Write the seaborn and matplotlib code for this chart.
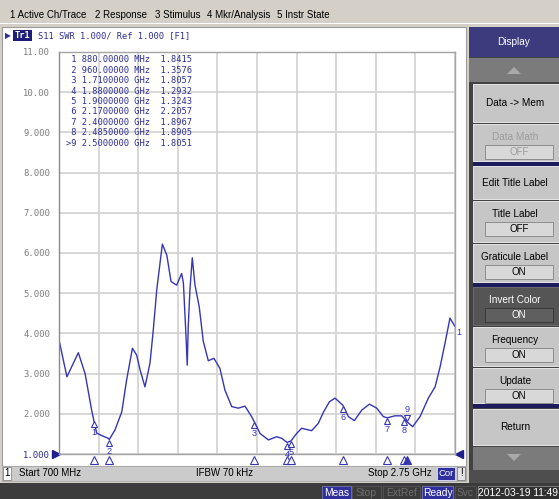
"""
ENA network analyzer screen: S11 SWR trace, 700 MHz - 2.75 GHz, with marker table.
"""
import matplotlib
matplotlib.use("Agg")
import matplotlib.pyplot as plt
import matplotlib.transforms as mtransforms
from matplotlib.patches import Rectangle, Polygon
import pandas as pd
import seaborn as sns

W, H = 559, 499

# ── trace data ────────────────────────────────────────────────
freq_mhz = [700, 741, 800, 835, 869, 880, 895, 925, 955, 960, 990, 1025,
            1050, 1080, 1102, 1120, 1145, 1171, 1188, 1206, 1235, 1258,
            1280, 1309, 1335, 1344, 1356, 1364, 1369, 1378, 1390, 1404,
            1426, 1447, 1473, 1502, 1533, 1559, 1594, 1628, 1663, 1697,
            1710, 1741, 1784, 1827, 1853, 1880, 1900, 1930, 1956, 2008,
            2042, 2070, 2100, 2129, 2170, 2198, 2229, 2267, 2307, 2345,
            2379, 2400, 2439, 2474, 2485, 2500, 2531, 2569, 2612, 2647,
            2673, 2698, 2724, 2750]
swr = [3.84, 2.92, 3.52, 3.00, 2.09, 1.84, 1.52, 1.45, 1.39, 1.36, 1.60, 2.05,
       2.84, 3.63, 3.46, 3.09, 2.67, 3.26, 4.08, 5.08, 6.22, 5.95,
       5.29, 5.20, 5.49, 5.25, 4.08, 3.21, 4.17, 5.10, 5.88, 5.20,
       4.66, 3.80, 3.32, 3.38, 3.13, 2.59, 2.18, 2.14, 2.19, 1.93,
       1.81, 1.51, 1.35, 1.43, 1.39, 1.29, 1.32, 1.51, 1.64, 1.58,
       1.76, 2.05, 2.30, 2.39, 2.21, 1.93, 1.83, 2.09, 2.24, 2.14,
       1.93, 1.90, 1.95, 1.95, 1.89, 1.81, 1.68, 1.93, 2.39, 2.67,
       3.17, 3.75, 4.38, 4.17]

marker_ids = ["1", "2", "3", "4", "5", "6", "7", "8", "9"]
marker_freq_mhz = [880, 960, 1710, 1880, 1900, 2170, 2400, 2485, 2500]
marker_swr = [1.8415, 1.3576, 1.8057, 1.2932, 1.3243, 2.2057, 1.8967, 1.8905, 1.8051]
active_marker = "9"

start_mhz, stop_mhz = 700, 2750
ref_level = 1.0
y_ticks = [1, 2, 3, 4, 5, 6, 7, 8, 9, 10, 11]
y_tick_labels = ["1.000", "2.000", "3.000", "4.000", "5.000", "6.000",
                 "7.000", "8.000", "9.000", "10.00", "11.00"]

menu_items = ["1 Active Ch/Trace", "2 Response", "3 Stimulus",
              "4 Mkr/Analysis", "5 Instr State"]
menu_x = [10, 95, 155, 207, 277]

# softkeys: label, state, style, top, bottom
softkeys = [
    ("Data -> Mem", None, "normal", 84, 122),
    ("Data Math", "OFF", "disabled", 124, 161),
    ("Edit Title Label", None, "normal", 166, 199),
    ("Title Label", "OFF", "normal", 201, 242),
    ("Graticule Label", "ON", "normal", 244, 282),
    ("Invert Color", "ON", "dark", 287, 325),
    ("Frequency", "ON", "normal", 327, 366),
    ("Update", "ON", "normal", 368, 403),
    ("Return", None, "normal", 409, 445),
]

status_items = [("Meas", 322, 351, "on"), ("Stop", 352, 381, "off"),
                ("ExtRef", 383, 420, "off"), ("Ready", 422, 453, "on"),
                ("Svc", 455, 476, "off"), ("2012-03-19 11:49", 478, 559, "clock")]

NAVY = "#2e2e96"
TRACE = "#3636b4"
GRID = "#d4d4d4"
UI = "#d4d0c8"
MONO = "DejaVu Sans Mono"

sns.set_style("white")
plt.rcParams["font.family"] = ["Liberation Sans", "DejaVu Sans"]

fig = plt.figure(figsize=(W / 100, H / 100), dpi=100)
bg = fig.add_axes([0, 0, 1, 1], zorder=0)
bg.set_xlim(0, W)
bg.set_ylim(H, 0)
bg.axis("off")


def box(x0, y0, x1, y1, fc, ec="none", lw=0.0, z=1):
    bg.add_patch(Rectangle((x0, y0), x1 - x0, y1 - y0, facecolor=fc,
                           edgecolor=ec, linewidth=lw, zorder=z))


def label(x, y, s, size=6.6, color="black", ha="center", z=5, **kw):
    bg.text(x, y, s, fontsize=size, color=color, ha=ha, va="center",
            zorder=z, **kw)


# window background and menu bar
box(0, 0, W, H, UI, z=0)
for item, x in zip(menu_items, menu_x):
    label(x, 14.5, item, size=7.0, ha="left")
box(0, 23, W, 24, "#ffffff")

# channel window
box(2, 27, 466, 466, "white", ec="#9c9c9c", lw=0.8)
label(8, 35.5, "▶", size=5.5, color=NAVY, family=["DejaVu Sans"])
box(13, 30, 32, 41, "#1e1e78", z=2)
label(22.5, 35.5, "Tr1", size=6.3, color="white", family=MONO, weight="bold")
label(38, 35.5, "S11 SWR 1.000/ Ref 1.000 [F1]", size=6.3, color=NAVY,
      ha="left", family=MONO)

# channel footer
box(2, 466, 466, 481, "#cbcbcb", ec="#a8a8a8", lw=0.6)
box(2.5, 467, 11, 480, "white", ec="#8a8a8a", lw=0.6, z=2)
label(6.8, 473.5, "1", size=7.0)
label(19, 473.5, f"Start {start_mhz} MHz", size=7.0, ha="left")
label(225, 473.5, "IFBW 70 kHz", size=7.0)
label(432, 473.5, f"Stop {stop_mhz / 1000:.2f} GHz", size=7.0, ha="right")
box(437, 467, 455, 480, "#2f2fa0", ec="#e0e0ff", lw=0.6, z=2)
label(446, 473.5, "Cor", size=6.8, color="white")
box(457, 467, 465, 480, "#e4e4e4", ec="#7a7a7a", lw=0.6, z=2)
label(461, 473.5, "!", size=7.0)

# status bar
box(0, 483, W, H, "#3b3b3b")
for text, x0, x1, kind in status_items:
    if kind == "on":
        box(x0, 486, x1, 499, "#30309c", ec="#8080c0", lw=0.5, z=2)
        label((x0 + x1) / 2, 492.5, text, size=7.4, color="white")
    elif kind == "off":
        box(x0, 486, x1, 499, "#3b3b3b", ec="#5a5a5a", lw=0.5, z=2)
        label((x0 + x1) / 2, 492.5, text, size=7.4, color="#6e6e6e")
    else:
        box(x0, 486, x1, 499, "#303030", ec="#8a8a8a", lw=0.6, z=2)
        label((x0 + x1) / 2, 492.5, text, size=7.4, color="white")

# softkey panel
box(469, 27, W, 483, "#424242")
box(469, 27, W, 56.5, "#3b3b7d")
label(514, 42, "Display", size=7.2, color="white")
box(469, 57.5, W, 82, "#7b7b7b")
bg.add_patch(Polygon([[507, 74], [521, 74], [514, 67]], closed=True,
                     facecolor="#a9a9a9", edgecolor="none", zorder=3))
box(473, 447, W, 470, "#7b7b7b")
bg.add_patch(Polygon([[507, 454], [521, 454], [514, 461]], closed=True,
                     facecolor="#a9a9a9", edgecolor="none", zorder=3))
box(469, 470, W, 483, "#4e4e4e")
for y0, y1 in [(161.5, 165.5), (282.5, 286.5), (403.5, 408)]:
    box(473, y0, W, y1, "#1c1c5c", z=2)

for name, state, style, top, bot in softkeys:
    face = {"normal": "#c6c6c6", "disabled": "#c6c6c6", "dark": "#555555"}[style]
    txt = {"normal": "black", "disabled": "#9c9c9c", "dark": "white"}[style]
    box(473, top, W, bot, face, ec="#e6e6e6" if style != "dark" else "#6a6a6a",
        lw=0.7, z=2)
    if state is None:
        label(515, (top + bot) / 2, name, size=7.2, color=txt)
    else:
        label(515, top + 13, name, size=7.2, color=txt)
        sfc = "#5f5f5f" if style == "dark" else "#d8d8d8"
        sec = "#383838" if style == "dark" else "#8c8c8c"
        box(485, top + 21, 553, top + 35, sfc, ec=sec, lw=0.7, z=3)
        label(519, top + 28, state, size=7.0, color=txt)

# ── measurement plot ─────────────────────────────────────────
ax = fig.add_axes([59 / W, 45 / H, 396 / W, 402 / H], zorder=2)
ax.patch.set_alpha(0)

trace = pd.DataFrame({"freq_mhz": freq_mhz, "swr": swr})
sns.lineplot(data=trace, x="freq_mhz", y="swr", ax=ax, color=TRACE,
             linewidth=1.0, estimator=None)

ax.set_xlim(start_mhz, stop_mhz)
ax.set_ylim(y_ticks[0], y_ticks[-1])
step = (stop_mhz - start_mhz) / 10
ax.set_xticks([start_mhz + i * step for i in range(11)])
ax.set_xticklabels([])
ax.set_yticks(y_ticks)
ax.set_yticklabels(y_tick_labels, family=MONO, fontsize=6.4, color="#7c7c7c")
ax.get_yticklabels()[0].set_color(NAVY)
ax.tick_params(length=0, pad=6.5)
ax.grid(True, color=GRID, linewidth=1.3)
ax.set_xlabel("")
ax.set_ylabel("")
for side, sp in ax.spines.items():
    sp.set_color("#a4a4a4")
    sp.set_linewidth(1.0)
ax.spines["left"].set_color("#8a8a8a")

# reference level arrows
ref_t = mtransforms.blended_transform_factory(ax.transAxes, ax.transData)
ax.plot([0], [ref_level], marker=">", ms=6, color="#1e1e8c", clip_on=False,
        transform=mtransforms.offset_copy(ref_t, fig=fig, x=-3.5, units="dots"))
ax.plot([1], [ref_level], marker="<", ms=6, color="#1e1e8c", clip_on=False,
        transform=mtransforms.offset_copy(ref_t, fig=fig, x=4, units="dots"))

# markers on trace and stimulus-axis markers
stim_t = mtransforms.blended_transform_factory(ax.transData, ax.transAxes)
stim_t = mtransforms.offset_copy(stim_t, fig=fig, y=-5.5, units="dots")
for mid, f, v in zip(marker_ids, marker_freq_mhz, marker_swr):
    active = mid == active_marker
    sym, dy, ty = ("v", 3.5, 12) if active else ("^", -3.5, -12)
    ax.plot([f], [v], marker=sym, ms=5, mfc="white", mec=TRACE, mew=0.8,
            transform=mtransforms.offset_copy(ax.transData, fig=fig, y=dy,
                                              units="dots"))
    ax.annotate(mid, (f, v), xytext=(0, ty), textcoords="offset pixels",
                ha="center", va="center", fontsize=6.6, color=TRACE)
    ax.plot([f], [0], marker="^", ms=5.5, mfc=TRACE if active else "white",
            mec=TRACE, mew=0.8, clip_on=False, transform=stim_t)

ax.annotate("1", (freq_mhz[-1], swr[-1]), xytext=(4, -6),
            textcoords="offset pixels", ha="center", va="center",
            fontsize=6.6, color=TRACE, annotation_clip=False)

# marker table
for i, (mid, f, v) in enumerate(zip(marker_ids, marker_freq_mhz, marker_swr)):
    if f < 1000:
        fs, unit = f"{f:.5f}", "MHz"
    else:
        fs, unit = f"{f / 1000:.7f}", "GHz"
    tag = (">" + mid) if mid == active_marker else mid
    line = f"{tag:>2} {fs} {unit}  {v:.4f}"
    ax.text(0, 1, line, family=MONO, fontsize=6.3, color=NAVY, va="center",
            transform=mtransforms.offset_copy(ax.transAxes, fig=fig, x=7,
                                              y=-(8 + i * 10.4), units="dots"))

fig.savefig("out.png", dpi=100)
